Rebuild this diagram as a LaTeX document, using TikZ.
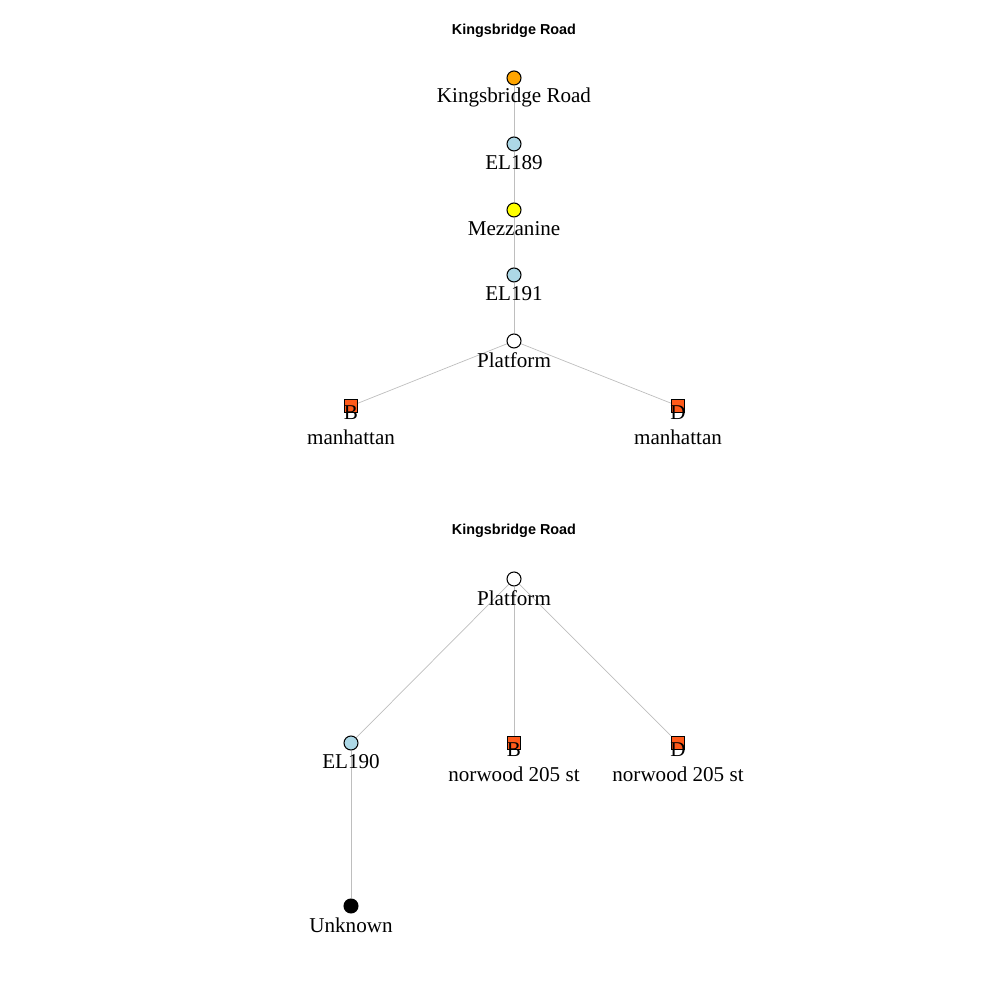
\documentclass[tikz,border=0pt]{standalone}
\usepackage{fontspec}
\setmainfont{Liberation Serif}
\newfontfamily\titlefont{Liberation Sans}
\usetikzlibrary{backgrounds}

\definecolor{vorange}{HTML}{FFA500}
\definecolor{vblue}{HTML}{ADD8E6}
\definecolor{vyellow}{HTML}{FFFF00}
\definecolor{vred}{HTML}{FF5A1A}
\definecolor{egrey}{HTML}{BEBEBE}

\tikzset{
  vtx/.style={circle, draw=black, line width=0.3pt, inner sep=0pt, minimum size=0.14cm},
  sqv/.style={rectangle, draw=black, line width=0.3pt, inner sep=0pt, minimum size=0.13cm, fill=vred},
  lbl/.style={font=\fontsize{6}{7.1}\selectfont, align=center, inner sep=0pt, yshift=-0.19cm},
  ttl/.style={font=\titlefont\bfseries\fontsize{4.1}{5}\selectfont, inner sep=0pt},
  edge/.style={draw=egrey, line width=0.2pt}
}

\begin{document}
\begin{tikzpicture}
  \useasboundingbox (0,0) rectangle (10,10);

  % upper graph
  \node[ttl] (title1) at (5.14,9.69) {Kingsbridge Road};
  \node[vtx, fill=vorange, label={[lbl]center:Kingsbridge Road}] (kr) at (5.14,9.22) {};
  \node[vtx, fill=vblue, label={[lbl]center:EL189}] (el189) at (5.14,8.56) {};
  \node[vtx, fill=vyellow, label={[lbl]center:Mezzanine}] (mezz) at (5.14,7.90) {};
  \node[vtx, fill=vblue, label={[lbl]center:EL191}] (el191) at (5.14,7.25) {};
  \node[vtx, fill=white, label={[lbl]center:Platform}] (plat1) at (5.14,6.59) {};
  \node[sqv, label={[lbl]center:B\\manhattan}] (bman) at (3.51,5.94) {};
  \node[sqv, label={[lbl]center:D\\manhattan}] (dman) at (6.78,5.94) {};

  % lower graph
  \node[ttl] (title2) at (5.14,4.69) {Kingsbridge Road};
  \node[vtx, fill=white, label={[lbl]center:Platform}] (plat2) at (5.14,4.21) {};
  \node[vtx, fill=vblue, label={[lbl]center:EL190}] (el190) at (3.51,2.57) {};
  \node[sqv, label={[lbl]center:B\\norwood 205 st}] (bnor) at (5.14,2.57) {};
  \node[sqv, label={[lbl]center:D\\norwood 205 st}] (dnor) at (6.78,2.57) {};
  \node[vtx, fill=black, label={[lbl]center:Unknown}] (unk) at (3.51,0.94) {};

  \begin{scope}[on background layer]
    \draw[edge] (kr) -- (el189);
    \draw[edge] (el189) -- (mezz);
    \draw[edge] (mezz) -- (el191);
    \draw[edge] (el191) -- (plat1);
    \draw[edge] (plat1) -- (bman);
    \draw[edge] (plat1) -- (dman);

    \draw[edge] (plat2) -- (el190);
    \draw[edge] (plat2) -- (bnor);
    \draw[edge] (plat2) -- (dnor);
    \draw[edge] (el190) -- (unk);
  \end{scope}
\end{tikzpicture}
\end{document}
